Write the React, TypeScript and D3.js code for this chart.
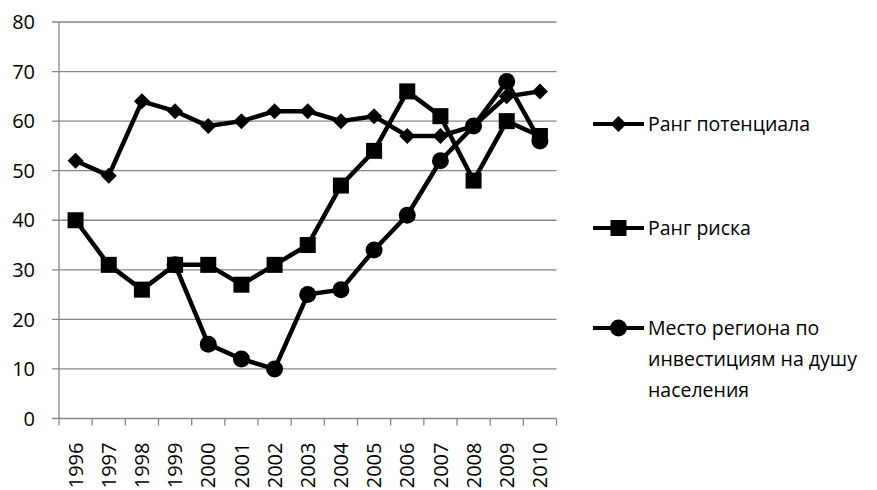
import React, { useEffect, useRef } from "react";
import * as d3 from "d3";

const years = ["1996", "1997", "1998", "1999", "2000", "2001", "2002", "2003", "2004", "2005", "2006", "2007", "2008", "2009", "2010"];
const potential = [52, 49, 64, 62, 59, 60, 62, 62, 60, 61, 57, 57, 59, 65, 66];
const risk = [40, 31, 26, 31, 31, 27, 31, 35, 47, 54, 66, 61, 48, 60, 57];
const investment: (number | null)[] = [null, null, null, 31, 15, 12, 10, 25, 26, 34, 41, 52, 59, 68, 56];
const yTicks = [0, 10, 20, 30, 40, 50, 60, 70, 80];
const seriesNames = ["Ранг потенциала", "Ранг риска", "Место региона по инвестициям на душу населения"];
const legendLines = [["Ранг потенциала"], ["Ранг риска"], ["Место региона по", "инвестициям на душу", "населения"]];

type Marker = "diamond" | "square" | "circle";

const App: React.FC = () => {
  const svgRef = useRef<SVGSVGElement | null>(null);

  useEffect(() => {
    document.body.style.margin = "0";
    const width = 877;
    const height = 490;
    const margin = { top: 22, right: 320.5, bottom: 71.5, left: 59 };
    const font = "'Open Sans', sans-serif";
    const grey = "#868686";

    d3.select(svgRef.current).selectAll("*").remove();
    const svg = d3.select(svgRef.current).attr("width", width).attr("height", height);

    const x = d3.scaleBand<string>().domain(years).range([margin.left, width - margin.right]);
    const y = d3.scaleLinear().domain([0, 80]).range([height - margin.bottom, margin.top]);
    const cx = (yr: string) => (x(yr) as number) + x.bandwidth() / 2;

    // gridlines
    svg
      .append("g")
      .selectAll("line")
      .data(yTicks)
      .join("line")
      .attr("x1", margin.left - 7)
      .attr("x2", width - margin.right)
      .attr("y1", (d) => y(d))
      .attr("y2", (d) => y(d))
      .attr("stroke", grey)
      .attr("stroke-width", 1.3);

    // y axis line
    svg
      .append("line")
      .attr("x1", margin.left)
      .attr("x2", margin.left)
      .attr("y1", y(80))
      .attr("y2", y(0))
      .attr("stroke", grey)
      .attr("stroke-width", 1.3);

    // y labels
    svg
      .append("g")
      .selectAll("text")
      .data(yTicks)
      .join("text")
      .attr("x", 35)
      .attr("y", (d) => y(d))
      .attr("dy", "0.36em")
      .attr("text-anchor", "end")
      .attr("font-family", font)
      .attr("font-size", 20)
      .text((d) => d);

    // x ticks at category boundaries
    const bounds = years.map((yr) => x(yr) as number).concat([width - margin.right]);
    svg
      .append("g")
      .selectAll("line")
      .data(bounds)
      .join("line")
      .attr("x1", (d) => d)
      .attr("x2", (d) => d)
      .attr("y1", y(0))
      .attr("y2", y(0) + 7)
      .attr("stroke", grey)
      .attr("stroke-width", 1.3);

    // x labels
    svg
      .append("g")
      .selectAll("text")
      .data(years)
      .join("text")
      .attr("transform", (d) => `translate(${cx(d)},${y(0) + 24}) rotate(-90)`)
      .attr("dy", "0.36em")
      .attr("text-anchor", "end")
      .attr("font-family", font)
      .attr("font-size", 20)
      .text((d) => d);

    const drawMarker = (g: d3.Selection<SVGGElement, unknown, null, undefined>, type: Marker, px: number, py: number) => {
      if (type === "diamond") {
        g.append("path")
          .attr("d", `M${px},${py - 8}L${px + 8},${py}L${px},${py + 8}L${px - 8},${py}Z`)
          .attr("fill", "#000");
      } else if (type === "square") {
        g.append("rect")
          .attr("x", px - 8)
          .attr("y", py - 8)
          .attr("width", 16)
          .attr("height", 16)
          .attr("fill", "#000");
      } else {
        g.append("circle").attr("cx", px).attr("cy", py).attr("r", 8.5).attr("fill", "#000");
      }
    };

    const allSeries: { values: (number | null)[]; marker: Marker }[] = [
      { values: potential, marker: "diamond" },
      { values: risk, marker: "square" },
      { values: investment, marker: "circle" },
    ];

    const line = d3
      .line<number | null>()
      .defined((d) => d !== null)
      .x((_, i) => cx(years[i]))
      .y((d) => y(d as number));

    allSeries.forEach((s) => {
      const g = svg.append("g");
      g.append("path")
        .attr("d", line(s.values))
        .attr("fill", "none")
        .attr("stroke", "#000")
        .attr("stroke-width", 4.5)
        .attr("stroke-linejoin", "round");
      s.values.forEach((v, i) => {
        if (v !== null) drawMarker(g, s.marker, cx(years[i]), y(v));
      });
    });

    // legend
    const legendY = [124, 228, 328];
    allSeries.forEach((s, i) => {
      const g = svg.append("g").attr("aria-label", seriesNames[i]);
      g.append("line")
        .attr("x1", 593)
        .attr("x2", 644)
        .attr("y1", legendY[i])
        .attr("y2", legendY[i])
        .attr("stroke", "#000")
        .attr("stroke-width", 4);
      drawMarker(g, s.marker, 618.5, legendY[i]);
      legendLines[i].forEach((t, k) => {
        g.append("text")
          .attr("x", 648)
          .attr("y", legendY[i] + k * 31)
          .attr("dy", "0.36em")
          .attr("font-family", font)
          .attr("font-size", 19.5)
          .text(t);
      });
    });
  }, []);

  return <svg ref={svgRef} style={{ display: "block" }}></svg>;
};

export default App;
